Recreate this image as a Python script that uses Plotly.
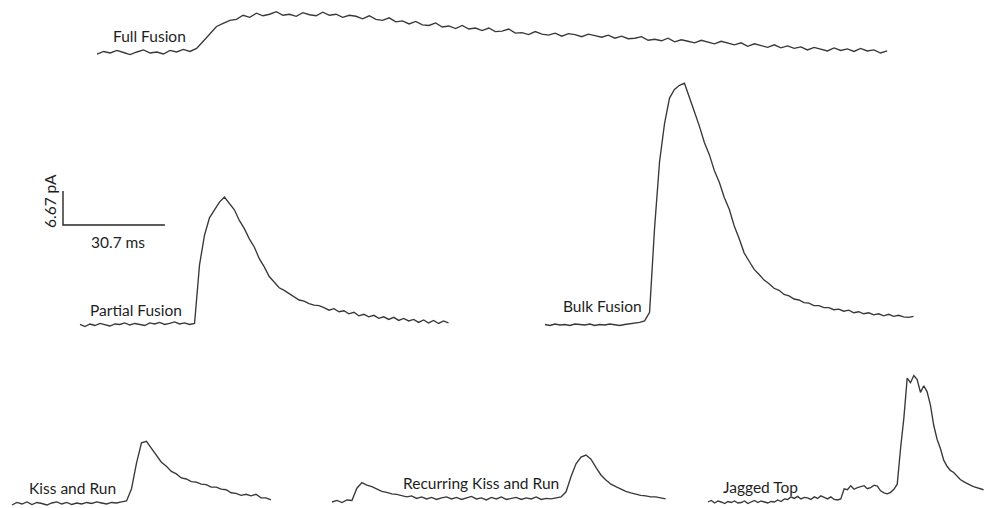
import plotly.graph_objects as go

# Amperometric spike traces: current (pA, above each trace's own baseline)
# sampled on a uniform time grid (ms).

full_fusion_dt = 2.0
full_fusion = [
    -0.2, 0.3, 0.0, 0.5, 0.1, -0.3, 0.2, 0.6, 0.0, 0.2,
    -0.2, 0.5, 0.2, 0.7, 0.3, 0.9, 2.3, 3.8, 5.2, 5.8,
    6.4, 6.6, 7.4, 7.0, 7.8, 7.3, 7.6, 8.1, 7.4, 7.6,
    7.2, 7.9, 7.5, 7.3, 8.0, 7.4, 7.6, 7.0, 7.4, 7.2,
    6.7, 7.3, 6.6, 6.4, 6.9, 6.1, 6.3, 5.7, 6.2, 5.5,
    5.4, 5.9, 5.1, 5.3, 4.8, 5.4, 4.7, 4.9, 4.4, 4.9,
    4.2, 4.3, 4.7, 3.9, 4.0, 3.6, 4.2, 3.7, 3.5, 3.9,
    3.3, 3.8, 3.6, 3.2, 3.7, 3.4, 3.1, 3.5, 2.9, 3.3,
    2.8, 2.9, 3.2, 2.5, 2.7, 2.4, 2.9, 2.2, 2.6, 2.3,
    2.0, 2.5, 2.1, 1.8, 2.3, 1.9, 1.6, 2.0, 1.3, 1.8,
    1.4, 1.1, 1.6, 1.0, 1.4, 0.9, 1.2, 0.6, 1.1, 0.8,
    0.4, 1.0, 0.5, 0.8, 0.3, 0.9, 0.4, 0.6, 0.0, 0.4,
]

partial_fusion_dt = 1.5
partial_fusion = [
    0.1, -0.3, 0.2, -0.1, 0.3, 0.0, -0.2, 0.2, 0.1, 0.4,
    0.0, 0.3, 0.1, -0.1, 0.4, 0.2, 0.5, 0.1, 0.3, 0.6,
    0.2, 0.4, 0.1, 0.3, 11.8, 17.6, 21.0, 22.5, 24.1, 25.1,
    23.9, 22.6, 20.5, 18.9, 16.9, 15.3, 13.0, 11.4, 9.5, 8.4,
    7.3, 6.8, 6.2, 5.6, 4.9, 4.7, 4.2, 3.9, 3.8, 3.4,
    2.9, 3.2, 2.6, 2.8, 2.2, 2.5, 1.8, 2.1, 1.6, 1.9,
    1.3, 1.6, 1.1, 1.5, 0.9, 1.3, 0.8, 1.1, 0.5, 1.0,
    0.4, 0.9, 0.3, 0.8, 0.4,
]

bulk_fusion_dt = 1.5
bulk_fusion = [
    0.1, -0.1, 0.2, 0.0, 0.1, -0.1, 0.2, 0.1, 0.0, 0.2,
    -0.1, 0.1, 0.0, 0.2, 0.1, -0.1, 0.1, 0.2, 0.3, 0.5,
    0.8, 2.5, 19.0, 32.0, 39.5, 44.5, 46.2, 47.0, 47.4, 44.8,
    41.8, 39.0, 35.8, 33.4, 30.3, 28.0, 25.0, 22.7, 19.4, 16.9,
    14.1, 12.5, 10.9, 9.9, 8.8, 8.1, 7.2, 6.8, 6.0, 5.7,
    5.1, 4.9, 4.4, 4.3, 3.8, 3.8, 3.4, 3.4, 3.0, 3.1,
    2.7, 2.9, 2.4, 2.6, 2.2, 2.4, 2.0, 2.2, 1.8, 2.1,
    1.7, 1.9, 1.6, 1.5, 1.7,
]

kiss_and_run_dt = 1.5
kiss_and_run = [
    -0.2, 0.3, 0.0, 0.4, -0.1, 0.3, 0.1, -0.2, 0.2, 0.4,
    0.0, 0.3, -0.1, 0.2, 0.0, 0.3, 0.1, 0.4, 0.2, 0.0,
    0.3, 0.2, 0.4, 0.6, 3.0, 8.0, 12.0, 12.3, 10.9, 9.6,
    8.2, 7.4, 6.4, 5.9, 5.1, 4.9, 4.4, 4.3, 3.9, 3.8,
    3.3, 3.3, 2.9, 2.8, 2.2, 2.1, 1.7, 1.9, 1.6, 1.9,
    1.2, 1.2, 0.8,
]

recurring_dt = 1.5
recurring = [
    0.0, 0.3, -0.1, 0.4, 0.3, 2.7, 3.8, 3.3, 3.0, 2.5,
    2.1, 1.9, 1.6, 1.5, 1.3, 1.0, 1.2, 0.7, 1.0, 0.6,
    0.9, 0.5, 0.8, 1.0, 0.6, 0.9, 0.5, 0.8, 1.1, 0.6,
    0.8, 0.4, 0.9, 0.6, 1.0, 0.5, 0.7, 0.9, 0.5, 0.8,
    0.6, 1.0, 0.5, 0.7, 0.6, 0.8, 1.0, 2.0, 5.0, 7.5,
    8.8, 9.2, 8.4, 6.8, 5.3, 4.3, 3.5, 3.0, 2.5, 2.1,
    1.8, 1.5, 1.3, 1.2, 1.0, 1.0, 0.8, 0.6,
]

jagged_top_dt = 1.0
jagged_top = [
    0.0, 0.3, -0.2, 0.2, 0.0, -0.3, 0.1, -0.1, 0.2, -0.2,
    -0.1, 0.2, -0.3, 0.0, 0.3, -0.1, 0.2, 0.0, -0.2, 0.1,
    0.0, 0.4, 0.1, 0.6, 0.5, 1.0, 0.7, 1.1, 0.6, 0.9,
    0.8, 0.5, 1.0, 0.7, 1.2, 0.9, 0.6, 1.0, 0.5, 0.4,
    0.6, 2.6, 2.4, 3.2, 2.5, 2.8, 3.0, 3.2, 2.6, 2.8,
    3.3, 3.1, 2.2, 1.8, 1.6, 1.9, 2.5, 3.5, 10.5, 16.5,
    24.3, 23.4, 24.8, 24.0, 21.5, 22.8, 21.6, 19.0, 15.0, 12.3,
    10.5, 8.2, 7.0, 6.2, 5.8, 5.0, 4.4, 4.0, 3.6, 3.3,
    3.0, 2.8, 2.6, 2.4,
]

trace_names = ["Full Fusion", "Partial Fusion", "Bulk Fusion",
               "Kiss and Run", "Recurring Kiss and Run", "Jagged Top"]

# Scale bar values
scale_ms = 30.7
scale_pa = 6.67

# ---- layout of the panel (canvas units: ms horizontally, pA vertically) ----
W, H = 985, 508
PX_PER_MS = 3.32
PX_PER_PA = 5.1


def cx(px):
    return px / PX_PER_MS


def cy(py):
    return (H - py) / PX_PER_PA


# where each trace starts (time origin, baseline) on the canvas
placement = {
    "Full Fusion": (cx(97), cy(53)),
    "Partial Fusion": (cx(80), cy(325)),
    "Bulk Fusion": (cx(545), cy(325)),
    "Kiss and Run": (cx(12), cy(504)),
    "Recurring Kiss and Run": (cx(332), cy(502)),
    "Jagged Top": (cx(708), cy(502)),
}
series = {
    "Full Fusion": (full_fusion, full_fusion_dt),
    "Partial Fusion": (partial_fusion, partial_fusion_dt),
    "Bulk Fusion": (bulk_fusion, bulk_fusion_dt),
    "Kiss and Run": (kiss_and_run, kiss_and_run_dt),
    "Recurring Kiss and Run": (recurring, recurring_dt),
    "Jagged Top": (jagged_top, jagged_top_dt),
}
label_pos = {
    "Full Fusion": (111, 36),
    "Partial Fusion": (88, 310),
    "Bulk Fusion": (561, 306),
    "Kiss and Run": (27, 488),
    "Recurring Kiss and Run": (401, 483),
    "Jagged Top": (721, 487),
}

LINE = dict(color="#383838", width=1.35)
FONT = dict(family="Lato, 'Open Sans', sans-serif", size=15.5, color="#1e1e1e")

fig = go.Figure()
for name in trace_names:
    vals, dt = series[name]
    t0, base = placement[name]
    fig.add_trace(go.Scatter(
        x=[t0 + dt * i for i in range(len(vals))],
        y=[base + v for v in vals],
        mode="lines", line=LINE, name=name, hoverinfo="skip",
    ))

# scale bar: vertical 6.67 pA, horizontal 30.7 ms
sx0, sy0 = cx(63), cy(225)
fig.add_trace(go.Scatter(
    x=[sx0, sx0, sx0 + scale_ms],
    y=[sy0 + scale_pa, sy0, sy0],
    mode="lines", line=dict(color="#262626", width=1.4), hoverinfo="skip",
))

annotations = []
for name in trace_names:
    px, py = label_pos[name]
    annotations.append(dict(
        x=cx(px), y=cy(py), text=name, showarrow=False,
        xanchor="left", yanchor="middle", font=FONT,
    ))
annotations.append(dict(
    x=cx(89), y=cy(242), text=f"{scale_ms} ms", showarrow=False,
    xanchor="left", yanchor="middle", font=FONT,
))
annotations.append(dict(
    x=cx(50), y=cy(201), text=f"{scale_pa} pA", showarrow=False,
    xanchor="center", yanchor="middle", textangle=-90, font=FONT,
))

fig.update_layout(
    width=W, height=H,
    margin=dict(l=0, r=0, t=0, b=0),
    paper_bgcolor="white", plot_bgcolor="white",
    showlegend=False,
    annotations=annotations,
    xaxis=dict(range=[0, W / PX_PER_MS], visible=False, fixedrange=True),
    yaxis=dict(range=[0, H / PX_PER_PA], visible=False, fixedrange=True),
)

fig.write_html("out.html")
